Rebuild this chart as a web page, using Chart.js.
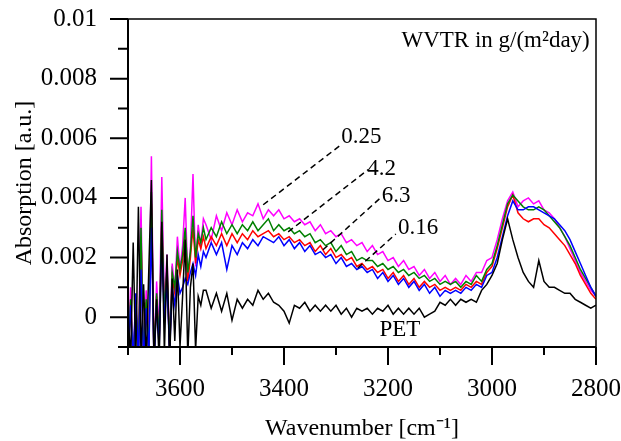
<!DOCTYPE html>
<html>
<head>
<meta charset="utf-8">
<script src="https://cdn.jsdelivr.net/npm/chart.js@4.4.0/dist/chart.umd.min.js"></script>
<style>
  html, body { margin: 0; padding: 0; background: #fff; }
  #wrap { width: 621px; height: 441px; }
</style>
</head>
<body>
<div id="wrap"><canvas id="spectra" width="621" height="441"></canvas></div>
<script>
// Wavenumber grid [cm-1] (5 cm-1 steps in the water vapour region, 10 cm-1 after)
const wavenumbers = [
  3700, 3695, 3690, 3685, 3680, 3675, 3670, 3665, 3660, 3655, 3650, 3645, 3640, 3635, 3630,
  3625, 3620, 3615, 3610, 3605, 3600, 3595, 3590, 3585, 3580, 3575, 3570, 3565, 3560, 3555,
  3550, 3540, 3530, 3520, 3510, 3500, 3490, 3480, 3470, 3460,
  3450, 3440, 3430, 3420, 3410, 3400, 3390, 3380, 3370, 3360,
  3350, 3340, 3330, 3320, 3310, 3300, 3290, 3280, 3270, 3260,
  3250, 3240, 3230, 3220, 3210, 3200, 3190, 3180, 3170, 3160,
  3150, 3140, 3130, 3120, 3110, 3100, 3090, 3080, 3070, 3060,
  3050, 3040, 3030, 3020, 3010, 3000, 2990, 2980, 2970, 2960,
  2950, 2940, 2930, 2920, 2910, 2900, 2890, 2880, 2870, 2860,
  2850, 2840, 2830, 2820, 2810, 2800
];

// Absorption [a.u.] per sample (WVTR in g/(m²day))
const wvtr025 = [
  -0.0015, 0.0010, -0.0015, 0.0006, -0.0012, 0.0037, -0.0015, 0.0009, -0.0010, 0.0054, -0.0015, 0.0012, -0.0006, 0.0047, 0.0003,
  0.0021, -0.0010, 0.0018, 0.0009, 0.0027, 0.0016, 0.0024, 0.0040, 0.0013, 0.0023, 0.0048, 0.0017, 0.0031, 0.0024, 0.0033,
  0.0031, 0.0026, 0.0034, 0.0029, 0.0035, 0.0031, 0.0036, 0.0032, 0.0035, 0.0034,
  0.0038, 0.0033, 0.0036, 0.0034, 0.0036, 0.0033, 0.0034, 0.0032, 0.0033, 0.0031,
  0.0032, 0.0029, 0.0031, 0.0028, 0.0029, 0.0027, 0.0028, 0.0025, 0.0026, 0.0024,
  0.0025, 0.0022, 0.0024, 0.0021, 0.0022, 0.0019, 0.0020, 0.0017, 0.0019, 0.0016,
  0.0017, 0.0014, 0.0016, 0.0013, 0.0015, 0.0012, 0.0014, 0.0011, 0.0013, 0.0011,
  0.0014, 0.0012, 0.0015, 0.0015, 0.0019, 0.0020, 0.0026, 0.0033, 0.0039, 0.0042,
  0.0037, 0.0039, 0.0040, 0.0038, 0.0039, 0.0036, 0.0035, 0.0033, 0.0030, 0.0027,
  0.0023, 0.0019, 0.0015, 0.0012, 0.0009, 0.0007
];

const wvtr42 = [
  -0.0015, 0.0006, -0.0015, 0.0004, -0.0013, 0.0030, -0.0015, 0.0006, -0.0012, 0.0042, -0.0015, 0.0008, -0.0008, 0.0036, 0.0001,
  0.0017, -0.0010, 0.0015, 0.0010, 0.0022, 0.0016, 0.0021, 0.0030, 0.0015, 0.0022, 0.0034, 0.0020, 0.0028, 0.0025, 0.0030,
  0.0026, 0.0030, 0.0027, 0.0032, 0.0028, 0.0031, 0.0028, 0.0031, 0.0029, 0.0032,
  0.0029, 0.0031, 0.0033, 0.0029, 0.0031, 0.0029, 0.0030, 0.0028, 0.0029, 0.0027,
  0.0028, 0.0025, 0.0026, 0.0024, 0.0025, 0.0022, 0.0024, 0.0021, 0.0022, 0.0019,
  0.0020, 0.0019, 0.0019, 0.0017, 0.0018, 0.0016, 0.0017, 0.0015, 0.0016, 0.0014,
  0.0015, 0.0013, 0.0014, 0.0012, 0.0013, 0.0011, 0.0012, 0.0011, 0.0012, 0.0010,
  0.0012, 0.0011, 0.0014, 0.0012, 0.0016, 0.0018, 0.0024, 0.0031, 0.0038, 0.0041,
  0.0039, 0.0037, 0.0036, 0.0036, 0.0037, 0.0036, 0.0034, 0.0032, 0.0030, 0.0027,
  0.0024, 0.0020, 0.0016, 0.0013, 0.0010, 0.0007
];

const wvtr63 = [
  -0.0015, 0.0005, -0.0015, 0.0003, -0.0013, 0.0027, -0.0015, 0.0005, -0.0012, 0.0038, -0.0015, 0.0007, -0.0009, 0.0032, 0.0000,
  0.0015, -0.0011, 0.0013, 0.0008, 0.0020, 0.0014, 0.0019, 0.0027, 0.0012, 0.0020, 0.0030, 0.0018, 0.0026, 0.0023, 0.0027,
  0.0023, 0.0027, 0.0024, 0.0028, 0.0024, 0.0028, 0.0025, 0.0028, 0.0026, 0.0029,
  0.0027, 0.0028, 0.0029, 0.0027, 0.0028, 0.0026, 0.0027, 0.0025, 0.0026, 0.0024,
  0.0025, 0.0022, 0.0024, 0.0021, 0.0023, 0.0020, 0.0021, 0.0019, 0.0020, 0.0017,
  0.0018, 0.0016, 0.0017, 0.0015, 0.0016, 0.0013, 0.0015, 0.0012, 0.0014, 0.0011,
  0.0013, 0.0010, 0.0012, 0.0010, 0.0011, 0.0009, 0.0010, 0.0009, 0.0010, 0.0009,
  0.0011, 0.0010, 0.0012, 0.0011, 0.0015, 0.0017, 0.0023, 0.0030, 0.0037, 0.0041,
  0.0035, 0.0033, 0.0032, 0.0033, 0.0033, 0.0031, 0.0030, 0.0028, 0.0026, 0.0024,
  0.0021, 0.0018, 0.0014, 0.0011, 0.0008, 0.0006
];

const wvtr016 = [
  -0.0015, 0.0004, -0.0015, 0.0008, -0.0014, 0.0016, -0.0015, 0.0003, -0.0013, 0.0030, -0.0015, 0.0004, -0.0010, 0.0025, -0.0002,
  0.0012, -0.0012, 0.0010, 0.0004, 0.0014, 0.0008, 0.0010, 0.0013, 0.0011, 0.0015, 0.0018, 0.0014, 0.0021, 0.0017, 0.0022,
  0.0020, 0.0025, 0.0021, 0.0025, 0.0016, 0.0024, 0.0021, 0.0025, 0.0023, 0.0026,
  0.0024, 0.0027, 0.0026, 0.0025, 0.0027, 0.0024, 0.0026, 0.0023, 0.0025, 0.0022,
  0.0024, 0.0021, 0.0022, 0.0020, 0.0021, 0.0018, 0.0020, 0.0017, 0.0018, 0.0016,
  0.0017, 0.0015, 0.0016, 0.0013, 0.0015, 0.0012, 0.0014, 0.0011, 0.0013, 0.0010,
  0.0012, 0.0009, 0.0011, 0.0008, 0.0010, 0.0007, 0.0009, 0.0008, 0.0009, 0.0008,
  0.0010, 0.0009, 0.0011, 0.0010, 0.0014, 0.0015, 0.0020, 0.0027, 0.0034, 0.0039,
  0.0036, 0.0036, 0.0037, 0.0037, 0.0036, 0.0035, 0.0034, 0.0033, 0.0031, 0.0029,
  0.0026, 0.0022, 0.0018, 0.0014, 0.0010, 0.0007
];

const pet = [
  0.0003, -0.0015, 0.0025, -0.0015, 0.0037, -0.0013, 0.0011, -0.0015, 0.0016, 0.0046, -0.0015, 0.0006, -0.0015, 0.0032, -0.0012,
  0.0021, -0.0015, 0.0013, -0.0008, 0.0016, -0.0010, 0.0007, 0.0026, -0.0013, 0.0010, 0.0018, -0.0011, 0.0007, 0.0004, 0.0009,
  0.0009, 0.0003, 0.0008, 0.0002, 0.0008, -0.0001, 0.0006, 0.0003, 0.0006, 0.0004,
  0.0009, 0.0006, 0.0008, 0.0005, 0.0004, 0.0002, -0.0002, 0.0004, 0.0003, 0.0005,
  0.0002, 0.0004, 0.0002, 0.0004, 0.0002, 0.0004, 0.0001, 0.0003, 0.0000, 0.0003,
  0.0002, 0.0003, 0.0001, 0.0003, 0.0002, 0.0004, 0.0001, 0.0003, 0.0001, 0.0003,
  0.0001, 0.0003, 0.0000, 0.0001, 0.0002, 0.0005, 0.0004, 0.0006, 0.0004, 0.0006,
  0.0005, 0.0006, 0.0005, 0.0009, 0.0011, 0.0014, 0.0018, 0.0026, 0.0033, 0.0026,
  0.0020, 0.0015, 0.0012, 0.0010, 0.0019, 0.0012, 0.0010, 0.0010, 0.0009, 0.0008,
  0.0008, 0.0006, 0.0005, 0.0004, 0.0003, 0.0004
];

// Axis ticks
const xTickValues = [3600, 3400, 3200, 3000, 2800];
const xTickLabels = ['3600', '3400', '3200', '3000', '2800'];
const xMinorTicks = [3700, 3500, 3300, 3100, 2900];
const yTickValues = [0, 0.002, 0.004, 0.006, 0.008, 0.01];
const yTickLabels = ['0', '0.002', '0.004', '0.006', '0.008', '0.01'];
const yMinorTicks = [-0.001, 0.001, 0.003, 0.005, 0.007, 0.009];

// Leader lines to the curve labels, in data units [wavenumber, absorption]
const leaderLabels = ['0.25', '4.2', '6.3', '0.16'];
const leaderFrom = [[3440, 0.00377], [3392, 0.00286], [3325, 0.00226], [3258, 0.00165]];
const leaderTo = [[3292, 0.00576], [3238, 0.00495], [3212, 0.00404], [3185, 0.00279]];
const labelAt = [[3290, 0.00603], [3240, 0.00498], [3212, 0.00407], [3181, 0.0030]];

const serif = '"Liberation Serif", "Times New Roman", serif';

const toPoints = (vals) => wavenumbers.map((w, i) => ({ x: w, y: vals[i] }));

// frame, minor/major ticks and annotations
const framePlugin = {
  id: 'frame',
  afterDraw(chart) {
    const { ctx, chartArea: a, scales: { x, y } } = chart;
    ctx.save();
    ctx.strokeStyle = '#000';
    ctx.lineWidth = 1.5;
    ctx.strokeRect(a.left, a.top, a.right - a.left, a.bottom - a.top);

    ctx.lineWidth = 2;
    ctx.beginPath();
    ctx.moveTo(a.left, a.top); ctx.lineTo(a.left, a.bottom); ctx.lineTo(a.right, a.bottom);
    yTickValues.forEach(v => { const p = y.getPixelForValue(v); ctx.moveTo(a.left, p); ctx.lineTo(a.left - 18, p); });
    yMinorTicks.forEach(v => { const p = y.getPixelForValue(v); ctx.moveTo(a.left, p); ctx.lineTo(a.left - 10, p); });
    xTickValues.forEach(v => { const p = x.getPixelForValue(v); ctx.moveTo(p, a.bottom); ctx.lineTo(p, a.bottom + 18); });
    xMinorTicks.forEach(v => { const p = x.getPixelForValue(v); ctx.moveTo(p, a.bottom); ctx.lineTo(p, a.bottom + 8); });
    ctx.stroke();

    ctx.lineWidth = 1.5;
    ctx.setLineDash([6, 4]);
    leaderFrom.forEach((f, i) => {
      const t = leaderTo[i];
      ctx.beginPath();
      ctx.moveTo(x.getPixelForValue(f[0]), y.getPixelForValue(f[1]));
      ctx.lineTo(x.getPixelForValue(t[0]), y.getPixelForValue(t[1]));
      ctx.stroke();
    });
    ctx.setLineDash([]);

    ctx.fillStyle = '#000';
    ctx.font = '23px ' + serif;
    ctx.textBaseline = 'middle';
    ctx.textAlign = 'left';
    leaderLabels.forEach((txt, i) => {
      ctx.fillText(txt, x.getPixelForValue(labelAt[i][0]), y.getPixelForValue(labelAt[i][1]));
    });
    ctx.textAlign = 'center';
    ctx.fillText('PET', x.getPixelForValue(3177), y.getPixelForValue(-0.00044));
    ctx.textAlign = 'right';
    ctx.fillText('WVTR in g/(m²day)', x.getPixelForValue(2812), y.getPixelForValue(0.00926));
    ctx.restore();
  }
};

new Chart(document.getElementById('spectra'), {
  type: 'line',
  data: {
    datasets: [
      { label: 'PET', data: toPoints(pet), borderColor: '#000000' },
      { label: '0.16', data: toPoints(wvtr016), borderColor: '#0000ff' },
      { label: '4.2', data: toPoints(wvtr42), borderColor: '#008000' },
      { label: '6.3', data: toPoints(wvtr63), borderColor: '#ff0000' },
      { label: '0.25', data: toPoints(wvtr025), borderColor: '#ff00ff' }
    ]
  },
  options: {
    responsive: false,
    animation: false,
    devicePixelRatio: 1,
    layout: { padding: { top: 19, right: 25, left: 0, bottom: 0 } },
    elements: {
      line: { borderWidth: 1.5, tension: 0, fill: false },
      point: { radius: 0 }
    },
    plugins: { legend: { display: false }, tooltip: { enabled: false } },
    scales: {
      x: {
        type: 'linear',
        min: 2800,
        max: 3700,
        reverse: true,
        grid: { display: false, drawTicks: false },
        border: { display: false },
        afterBuildTicks: (s) => { s.ticks = xTickValues.map(v => ({ value: v })); },
        afterFit: (s) => { s.height = 94; s.paddingLeft = 0; s.paddingRight = 0; },
        ticks: {
          padding: 27,
          color: '#000',
          font: { family: serif, size: 25 },
          maxRotation: 0,
          callback: (v) => xTickLabels[xTickValues.indexOf(v)]
        },
        title: {
          display: true,
          text: 'Wavenumber [cm⁻¹]',
          color: '#000',
          font: { family: serif, size: 24, lineHeight: 1 },
          padding: { top: 0, bottom: 0 }
        }
      },
      y: {
        type: 'linear',
        min: -0.001,
        max: 0.01,
        grid: { display: false, drawTicks: false },
        border: { display: false },
        afterBuildTicks: (s) => { s.ticks = yTickValues.map(v => ({ value: v })); },
        afterFit: (s) => { s.width = 128; s.paddingTop = 0; s.paddingBottom = 0; },
        ticks: {
          padding: 31,
          color: '#000',
          font: { family: serif, size: 25 },
          callback: (v) => yTickLabels[yTickValues.indexOf(v)]
        },
        title: {
          display: true,
          text: 'Absorption [a.u.]',
          color: '#000',
          font: { family: serif, size: 24, lineHeight: 1 },
          padding: { top: 13, bottom: 0 }
        }
      }
    }
  },
  plugins: [framePlugin]
});
</script>
</body>
</html>
